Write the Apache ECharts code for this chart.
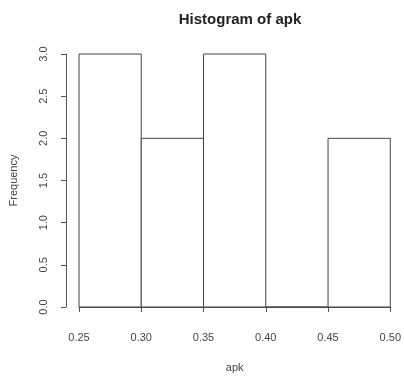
<!DOCTYPE html>
<html>
<head>
<meta charset="utf-8">
<script src="https://cdn.jsdelivr.net/npm/echarts@6/dist/echarts.min.js"></script>
<style>html,body{margin:0;padding:0;background:#fff}#c{width:404px;height:378px}</style>
</head>
<body>
<div id="c"></div>
<script>
var binStarts = [0.25, 0.30, 0.35, 0.40, 0.45];
var binEnds   = [0.30, 0.35, 0.40, 0.45, 0.50];
var counts    = [3, 2, 3, 0, 2];
var xTicks = [0.25, 0.30, 0.35, 0.40, 0.45, 0.50];
var yTicks = [0.0, 0.5, 1.0, 1.5, 2.0, 2.5, 3.0];

var data = binStarts.map(function (s, i) { return [s, binEnds[i], counts[i]]; });
var chart = echarts.init(document.getElementById('c'));
var font = 'Liberation Sans, Arial, sans-serif';
chart.setOption({
  animation: false,
  backgroundColor: '#fff',
  title: {
    text: 'Histogram of apk', left: 235, top: 7, textAlign: 'center',
    textStyle: { fontFamily: font, fontSize: 15, fontWeight: 'bold', color: '#222' }
  },
  grid: { left: 79, right: 12, top: 54, bottom: 71 },
  xAxis: {
    type: 'value', min: 0.25, max: 0.50, interval: 0.05, offset: 15,
    name: 'apk', nameLocation: 'middle', nameGap: 40,
    nameTextStyle: { fontFamily: font, fontSize: 11, color: '#444' },
    axisLine: { show: true, lineStyle: { color: '#555' } },
    axisTick: { show: true, length: 5, lineStyle: { color: '#555' } },
    axisLabel: { fontFamily: font, fontSize: 11, color: '#444', margin: 10,
      formatter: function (v) { return v.toFixed(2); } },
    splitLine: { show: false }
  },
  yAxis: {
    type: 'value', min: 0, max: 3, interval: 0.5, offset: 13,
    name: 'Frequency', nameLocation: 'middle', nameGap: 47,
    nameTextStyle: { fontFamily: font, fontSize: 11, color: '#444' },
    axisLine: { show: true, lineStyle: { color: '#555' } },
    axisTick: { show: true, length: 5, lineStyle: { color: '#555' } },
    axisLabel: { fontFamily: font, fontSize: 11, color: '#444', rotate: 90, margin: 17,
      formatter: function (v) { return v.toFixed(1); } },
    splitLine: { show: false }
  },
  series: [{
    type: 'custom',
    data: data,
    renderItem: function (params, api) {
      var p0 = api.coord([api.value(0), 0]);
      var p1 = api.coord([api.value(1), api.value(2)]);
      return {
        type: 'rect',
        shape: { x: p0[0], y: p1[1], width: p1[0] - p0[0], height: p0[1] - p1[1] },
        style: { fill: '#fff', stroke: '#444', lineWidth: 1 }
      };
    }
  }]
});
</script>
</body>
</html>
